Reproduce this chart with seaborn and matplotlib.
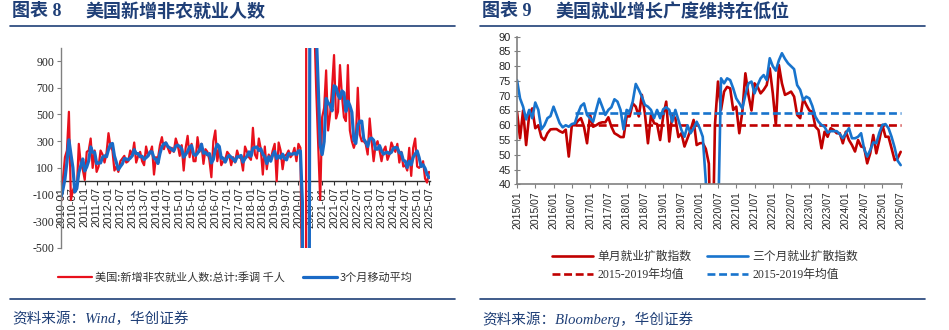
import numpy as np
import pandas as pd
import matplotlib
matplotlib.use("Agg")
import matplotlib.pyplot as plt
from matplotlib.lines import Line2D
import seaborn as sns

# ---------------- data: left chart (US nonfarm payrolls, thousands) ----------------
left_months = pd.date_range("2010-01-01", periods=187, freq="MS")
payrolls = [
    -150, 20, 180, 230, 520, -140, -70, -30, -60, 280, 130, 90,          # 2010
    10, 220, 230, 320, 100, 230, 70, 110, 230, 200, 140, 210,            # 2011
    360, 260, 230, 80, 110, 70, 150, 170, 190, 140, 150, 230,            # 2012
    190, 290, 140, 190, 220, 150, 120, 260, 190, 210, 260, 50,           # 2013
    180, 170, 270, 330, 240, 290, 250, 210, 250, 220, 320, 270,          # 2014
    190, 270, 80, 250, 340, 180, 280, 150, 150, 330, 220, 280,           # 2015
    130, 240, 220, 160, 30, 300, 380, 150, 250, 120, 150, 160,           # 2016
    220, 200, 120, 180, 140, 230, 180, 170, 80, 260, 220, 180,           # 2017
    160, 400, 200, 170, 320, 240, 50, 260, 90, 200, 160, 230,            # 2018
    280, 0, 290, 230, 90, 190, 200, 230, 180, 200, 250, 150,             # 2019
    280, 250, -1000, -20500, 2800, 4500, 1700, 1500, 1200, 680, 260, -140,  # 2020
    480, 550, 830, 380, 500, 700, 945, 470, 520, 870, 640, 480,          # 2021
    450, 870, 380, 300, 250, 300, 700, 350, 300, 300, 280, 200,          # 2022
    470, 300, 150, 270, 300, 230, 150, 230, 260, 160, 200, 290,          # 2023
    250, 220, 280, 140, 220, 110, 120, 80, 250, 40, 250, 320,            # 2024
    110, 100, 120, 150, 20, -10, 70,                                     # 2025
]
payrolls_ma3 = [
    -120, -60, 17, 143, 310, 203, 103, -80, -53, 63, 117, 167,
    77, 107, 153, 257, 217, 217, 133, 137, 137, 180, 190, 183,
    237, 277, 283, 190, 140, 87, 110, 130, 170, 167, 160, 173,
    190, 237, 207, 207, 183, 187, 163, 177, 190, 220, 220, 173,
    163, 133, 207, 257, 280, 287, 260, 250, 237, 227, 263, 270,
    260, 243, 180, 200, 223, 257, 267, 203, 193, 210, 233, 277,
    210, 217, 197, 207, 137, 163, 237, 277, 260, 173, 173, 143,
    177, 193, 180, 167, 147, 183, 183, 193, 143, 170, 187, 220,
    187, 247, 253, 257, 230, 243, 203, 183, 133, 183, 150, 197,
    223, 170, 190, 173, 203, 170, 160, 207, 203, 203, 210, 200,
    227, 227, -157, -7083, -6233, -4400, 3000, 2567, 1467, 1127, 713, 267,
    200, 297, 620, 587, 570, 527, 715, 705, 645, 620, 677, 663,
    523, 600, 567, 517, 310, 283, 417, 450, 450, 317, 293, 260,
    317, 323, 307, 240, 240, 267, 227, 203, 213, 217, 207, 217,
    247, 253, 250, 213, 213, 157, 150, 103, 150, 123, 180, 203,
    227, 177, 110, 123, 97, 53, 27,
]
left_yticks = [-500, -300, -100, 100, 300, 500, 700, 900]
left_labels = ["美国:新增非农就业人数:总计:季调 千人", "3个月移动平均"]

# ---------------- data: right chart (diffusion indices) ----------------
right_months = pd.date_range("2015-01-01", periods=127, freq="MS")
diff_1m = [
    64.6, 55.6, 65.0, 53.3, 63.5, 65.7, 59.0, 60.0, 56.0, 55.0, 57.3, 58.6,   # 2015
    58.7, 58.7, 58.0, 57.5, 58.5, 49.4, 60.0, 60.0, 61.5, 62.4, 59.5, 53.9,   # 2016
    63.5, 59.5, 60.0, 60.7, 61.0, 61.0, 62.7, 59.5, 57.3, 56.7, 56.0, 56.0,   # 2017
    63.0, 63.0, 67.4, 66.3, 63.0, 70.3, 64.0, 53.9, 63.5, 60.7, 60.4, 55.0,   # 2018
    63.0, 68.0, 54.5, 63.5, 62.4, 56.0, 57.3, 52.8, 55.6, 58.4, 61.8, 53.3,   # 2019
    53.9, 54.0, 52.0, 47.0, 4.0, 60.0, 74.8, 65.2, 71.4, 73.0, 72.5, 65.2,    # 2020
    66.3, 57.3, 64.6, 77.6, 70.3, 65.0, 74.2, 73.0, 70.8, 72.0, 73.6, 79.3,   # 2021
    70.8, 60.1, 80.4, 74.2, 70.3, 70.8, 71.4, 69.7, 63.5, 62.4, 69.0, 66.9,   # 2022
    65.0, 64.6, 59.5, 58.4, 52.2, 57.8, 56.1, 59.0, 58.4, 57.3, 57.3, 53.9,   # 2023
    57.8, 55.0, 53.3, 51.1, 55.0, 52.8, 52.5, 47.1, 50.5, 56.7, 50.5, 55.0,   # 2024
    60.1, 56.1, 56.1, 52.2, 48.2, 48.8, 51.0,                                 # 2025
]
diff_3m = [
    75.3, 69.1, 66.3, 62.0, 65.2, 62.4, 67.7, 65.2, 58.6, 60.0, 62.4, 63.1,
    66.3, 63.5, 60.7, 59.3, 60.0, 59.5, 60.4, 60.7, 64.0, 66.5, 67.4, 63.5,
    62.4, 61.2, 65.2, 69.0, 66.3, 63.5, 65.2, 66.1, 68.8, 68.0, 65.2, 58.6,
    65.2, 64.6, 68.0, 74.0, 72.0, 69.7, 66.9, 66.3, 65.2, 62.4, 65.2, 62.4,
    65.4, 66.1, 65.2, 61.2, 65.2, 61.8, 58.4, 56.1, 60.0, 57.3, 59.0, 61.2,
    59.0, 56.1, 41.0, 15.0, 8.0, 15.0, 25.0, 75.9, 74.2, 75.9, 75.3, 72.5,
    69.1, 67.5, 65.7, 70.3, 74.2, 74.8, 70.8, 73.6, 75.9, 77.0, 75.3, 82.7,
    80.0, 78.5, 82.0, 84.4, 82.5, 81.0, 80.0, 79.0, 73.6, 72.0, 68.5, 69.7,
    69.1, 66.5, 62.9, 61.2, 60.1, 59.5, 57.5, 58.0, 58.0, 58.0, 57.0, 55.6,
    57.3, 59.0, 55.6, 55.6, 56.1, 57.3, 52.0, 49.4, 51.6, 54.2, 53.9, 57.5,
    60.1, 60.4, 59.0, 56.1, 52.5, 48.0, 46.5,
]
avg_1m = 60.0          # 2015-2019 average, single month index
avg_3m = 64.0          # 2015-2019 average, three month index
avg_from = "2016-08-01"
right_yticks = [40, 45, 50, 55, 60, 65, 70, 75, 80, 85, 90]
right_labels = ["单月就业扩散指数", "2015-2019年均值", "三个月就业扩散指数", "2015-2019年均值"]

titles = [("图表 8", "美国新增非农就业人数"), ("图表 9", "美国就业增长广度维持在低位")]
sources = ["资料来源：Wind，华创证券", "资料来源：Bloomberg，华创证券"]

# ---------------- style ----------------
sns.set_theme(style="white")
plt.rcParams["font.family"] = ["Noto Sans CJK SC", "DejaVu Sans"]
plt.rcParams["axes.unicode_minus"] = False

NAVY = "#1F3F77"
RED_L, BLUE_L = "#E8101C", "#1A6AC6"
RED_R, BLUE_R = "#C00000", "#1874CD"
GRAY = "#808080"
TXT = "#262626"

W, H = 949, 330
fig = plt.figure(figsize=(W / 100, H / 100), dpi=100)
fig.patch.set_facecolor("white")


def fx(px):
    return px / W


def fy(py):
    return 1 - py / H


# titles, rules, sources
for (lead, body), src, x0 in zip(titles, sources, [10, 480]):
    fig.text(fx(x0 + 2), fy(11.5), lead, fontsize=13, fontweight="bold", color=NAVY,
             family=["Liberation Serif", "Noto Sans CJK SC"], va="center", ha="left")
    fig.text(fx(x0 + 75), fy(11.5), body, fontsize=13, fontweight="bold", color=NAVY,
             family=["Noto Sans CJK SC", "DejaVu Sans"], va="center", ha="left")
    fig.add_artist(Line2D([fx(x0), fx(x0 + 445)], [fy(25.7)] * 2, transform=fig.transFigure,
                          color=NAVY, lw=1.2))
    fig.add_artist(Line2D([fx(x0), fx(x0 + 445)], [fy(299.3)] * 2, transform=fig.transFigure,
                          color=NAVY, lw=1.2))
    fig.text(fx(x0 + 2), fy(319), src, fontsize=10.5, style="italic", color=NAVY,
             family=["Liberation Serif", "Noto Sans CJK SC"], va="center", ha="left")

# ---------------- left chart ----------------
ax1 = fig.add_axes([fx(61), fy(248), fx(369), (248 - 47.7) / H])
m_left = np.arange(len(left_months))
sns.lineplot(x=m_left, y=payrolls, ax=ax1, color=RED_L, linewidth=1.6, label=left_labels[0])
sns.lineplot(x=m_left, y=payrolls_ma3, ax=ax1, color=BLUE_L, linewidth=2.3, label=left_labels[1])
ax1.set_xlim(0, 186.5)
ax1.set_ylim(-500, 1000)
ax1.set_xlabel("")
ax1.set_ylabel("")
for s in ["top", "right"]:
    ax1.spines[s].set_visible(False)
ax1.spines["left"].set_color(GRAY)
ax1.spines["left"].set_linewidth(1.0)
ax1.spines["bottom"].set_position(("data", 0))
ax1.spines["bottom"].set_color("#303030")
ax1.spines["bottom"].set_linewidth(1.0)
ax1.spines["bottom"].set_zorder(1)
lt = m_left[::6]
ax1.set_xticks(lt, [left_months[i].strftime("%Y-%m") for i in lt], rotation=90,
               fontsize=8, family="Liberation Sans", color=TXT)
ax1.set_yticks(left_yticks, [str(v) for v in left_yticks], fontsize=8.5,
               family="Liberation Serif", color=TXT)
ax1.tick_params(axis="x", direction="out", length=3, width=0.8, color="#303030", pad=1, bottom=True)
ax1.tick_params(axis="y", direction="out", length=3, width=0.8, color=GRAY, pad=2, left=True)
h1, l1 = ax1.get_legend_handles_labels()
ax1.legend(h1, l1, loc="center left", bbox_to_anchor=(fx(58), fy(277)),
           bbox_transform=fig.transFigure, ncol=2, frameon=False, borderpad=0,
           borderaxespad=0, handlelength=3.05, handletextpad=0.3, columnspacing=1.6,
           prop={"family": ["Noto Sans CJK SC", "DejaVu Sans"], "size": 8}, labelcolor="#333333")

# ---------------- right chart ----------------
ax2 = fig.add_axes([fx(517), fy(184.3), fx(384.6), 147.6 / H])
m_right = np.arange(len(right_months))
start = int(np.where(right_months == pd.Timestamp(avg_from))[0][0])
m_avg = m_right[start:]
sns.lineplot(x=m_right, y=diff_1m, ax=ax2, color=RED_R, linewidth=1.9, label=right_labels[0])
sns.lineplot(x=m_avg, y=[avg_1m] * len(m_avg), ax=ax2, color=RED_R, linewidth=1.9,
             linestyle=(0, (3, 1.4)), label=right_labels[1])
sns.lineplot(x=m_right, y=diff_3m, ax=ax2, color=BLUE_R, linewidth=1.9, label=right_labels[2])
sns.lineplot(x=m_avg, y=[avg_3m] * len(m_avg), ax=ax2, color=BLUE_R, linewidth=1.9,
             linestyle=(0, (3, 1.4)), label=right_labels[3])
ax2.set_xlim(0, 126.3)
ax2.set_ylim(40, 90)
ax2.set_xlabel("")
ax2.set_ylabel("")
for s in ["top", "right"]:
    ax2.spines[s].set_visible(False)
for s in ["left", "bottom"]:
    ax2.spines[s].set_color(GRAY)
    ax2.spines[s].set_linewidth(1.2)
rt = m_right[::6]
ax2.set_xticks(rt, [right_months[i].strftime("%Y/%m") for i in rt], rotation=90,
               fontsize=7.5, family="Liberation Sans", color=TXT)
ax2.set_yticks(right_yticks, [str(v) for v in right_yticks], fontsize=8,
               family="Liberation Sans", color=TXT)
ax2.tick_params(axis="x", direction="out", length=3, width=0.8, color=GRAY, pad=2, bottom=True)
ax2.tick_params(axis="y", direction="inout", length=5, width=0.8, color=GRAY, pad=2, left=True)
h2, l2 = ax2.get_legend_handles_labels()
ax2.legend(h2, l2, loc="center left", bbox_to_anchor=(fx(552), fy(266)),
           bbox_transform=fig.transFigure, ncol=2, frameon=False, borderpad=0,
           borderaxespad=0, handlelength=3.5, handletextpad=0.35, columnspacing=1.3,
           labelspacing=0.45,
           prop={"family": ["Liberation Serif", "Noto Sans CJK SC"], "size": 8.5},
           labelcolor="#333333")

fig.savefig("out.png", dpi=100, facecolor="white")
